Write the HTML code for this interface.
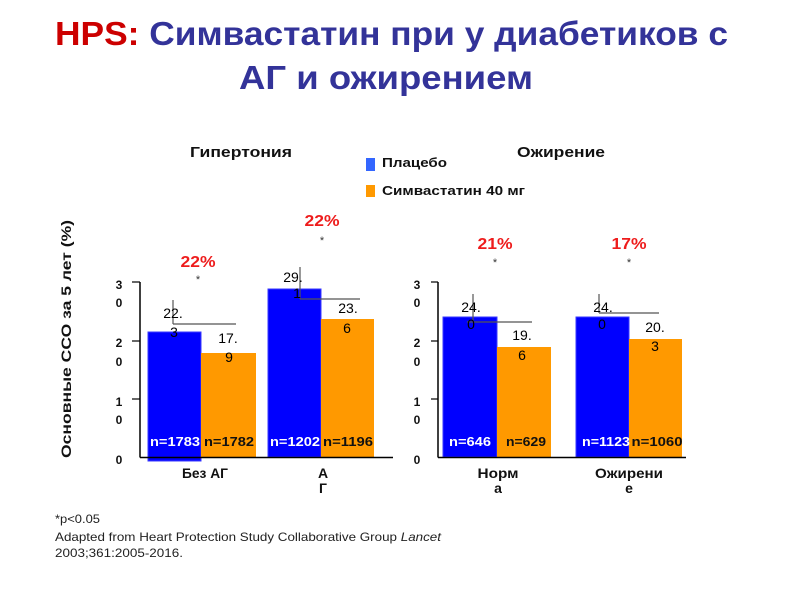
<!DOCTYPE html>
<html>
<head>
<meta charset="utf-8">
<style>
  html,body{margin:0;padding:0;background:#fff;}
  svg{display:block;}
  text{font-family:"Liberation Sans",Arial,"DejaVu Sans",sans-serif;}
</style>
</head>
<body>
<svg width="800" height="600" viewBox="0 0 800 600" xmlns="http://www.w3.org/2000/svg">
  <rect width="800" height="600" fill="#ffffff"/>

  <!-- Title -->
  <text x="55" y="45" font-size="33" font-weight="bold" textLength="673" lengthAdjust="spacingAndGlyphs"><tspan fill="#cc0000">HPS:</tspan><tspan fill="#333399"> Симвастатин при у диабетиков с</tspan></text>
  <text x="239" y="89" font-size="33" font-weight="bold" fill="#333399" textLength="294" lengthAdjust="spacingAndGlyphs">АГ и ожирением</text>

  <!-- Section headings -->
  <text x="190" y="157" font-size="15" font-weight="bold" fill="#111" textLength="102" lengthAdjust="spacingAndGlyphs">Гипертония</text>
  <text x="517" y="157" font-size="15" font-weight="bold" fill="#111" textLength="88" lengthAdjust="spacingAndGlyphs">Ожирение</text>

  <!-- Legend -->
  <rect x="366" y="158" width="9" height="13" fill="#3366ff"/>
  <text x="382" y="167" font-size="13" font-weight="bold" fill="#111" textLength="65" lengthAdjust="spacingAndGlyphs">Плацебо</text>
  <rect x="366" y="185" width="9" height="12" fill="#ff9900"/>
  <text x="382" y="195" font-size="13" font-weight="bold" fill="#111" textLength="143" lengthAdjust="spacingAndGlyphs">Симвастатин 40 мг</text>

  <!-- Y axis label -->
  <text transform="translate(71,458) rotate(-90)" x="0" y="0" font-size="14" font-weight="bold" fill="#111" textLength="238" lengthAdjust="spacingAndGlyphs">Основные ССО за 5 лет (%)</text>

  <!-- ===== Left chart ===== -->
  <rect x="148" y="332" width="53" height="129" fill="#0000ff" stroke="#3a3aff" stroke-width="1"/>
  <rect x="201" y="353" width="55" height="104" fill="#ff9900"/>
  <rect x="268" y="289" width="53" height="168" fill="#0000ff" stroke="#3a3aff" stroke-width="1"/>
  <rect x="321" y="319" width="53" height="138" fill="#ff9900"/>

  <line x1="140" y1="282" x2="140" y2="457.5" stroke="#000" stroke-width="1.5"/>
  <line x1="140" y1="457.5" x2="393" y2="457.5" stroke="#000" stroke-width="1.5"/>
  <line x1="132" y1="282" x2="140" y2="282" stroke="#000" stroke-width="1.2"/>
  <line x1="132" y1="341" x2="140" y2="341" stroke="#000" stroke-width="1.2"/>
  <line x1="132" y1="399" x2="140" y2="399" stroke="#000" stroke-width="1.2"/>

  <g font-size="12" font-weight="bold" fill="#111" text-anchor="middle">
    <text x="119" y="289">3</text><text x="119" y="307">0</text>
    <text x="119" y="347">2</text><text x="119" y="366">0</text>
    <text x="119" y="406">1</text><text x="119" y="424">0</text>
    <text x="119" y="464">0</text>
  </g>

  <g stroke="#555" stroke-width="1.2" fill="none">
    <line x1="173" y1="300" x2="173" y2="324"/>
    <line x1="173" y1="324" x2="236" y2="324"/>
    <line x1="300" y1="267" x2="300" y2="299"/>
    <line x1="300" y1="299" x2="360" y2="299"/>
  </g>

  <g font-size="14" fill="#000" text-anchor="middle">
    <text x="173" y="318">22.</text><text x="174" y="337">3</text>
    <text x="228" y="343">17.</text><text x="229" y="362">9</text>
    <text x="293" y="282">29.</text><text x="297" y="298">1</text>
    <text x="348" y="313">23.</text><text x="347" y="333">6</text>
  </g>

  <g font-size="13" font-weight="bold" text-anchor="middle">
    <text x="175" y="446" fill="#ffffff" textLength="50" lengthAdjust="spacingAndGlyphs">n=1783</text>
    <text x="229" y="446" fill="#111" textLength="50" lengthAdjust="spacingAndGlyphs">n=1782</text>
    <text x="295" y="446" fill="#ffffff" textLength="50" lengthAdjust="spacingAndGlyphs">n=1202</text>
    <text x="348" y="446" fill="#111" textLength="50" lengthAdjust="spacingAndGlyphs">n=1196</text>
  </g>

  <g font-size="16" font-weight="bold" fill="#ee1c1c" text-anchor="middle">
    <text x="198" y="267" textLength="35" lengthAdjust="spacingAndGlyphs">22%</text>
    <text x="322" y="226" textLength="35" lengthAdjust="spacingAndGlyphs">22%</text>
    <text x="495" y="249" textLength="35" lengthAdjust="spacingAndGlyphs">21%</text>
    <text x="629" y="249" textLength="35" lengthAdjust="spacingAndGlyphs">17%</text>
  </g>
  <g font-size="11" fill="#333" text-anchor="middle">
    <text x="198" y="283">*</text>
    <text x="322" y="244">*</text>
    <text x="495" y="266">*</text>
    <text x="629" y="266">*</text>
  </g>

  <g font-size="14" font-weight="bold" fill="#111" text-anchor="middle">
    <text x="205" y="478" textLength="46" lengthAdjust="spacingAndGlyphs">Без АГ</text>
    <text x="323" y="478">А</text>
    <text x="323" y="493">Г</text>
    <text x="498" y="478" textLength="41" lengthAdjust="spacingAndGlyphs">Норм</text>
    <text x="498" y="493">а</text>
    <text x="629" y="478" textLength="68" lengthAdjust="spacingAndGlyphs">Ожирени</text>
    <text x="629" y="493">е</text>
  </g>

  <!-- ===== Right chart ===== -->
  <rect x="443" y="317" width="54" height="140" fill="#0000ff" stroke="#3a3aff" stroke-width="1"/>
  <rect x="497" y="347" width="54" height="110" fill="#ff9900"/>
  <rect x="576" y="317" width="53" height="140" fill="#0000ff" stroke="#3a3aff" stroke-width="1"/>
  <rect x="629" y="339" width="53" height="118" fill="#ff9900"/>

  <line x1="438" y1="282" x2="438" y2="457.5" stroke="#000" stroke-width="1.5"/>
  <line x1="438" y1="457.5" x2="686" y2="457.5" stroke="#000" stroke-width="1.5"/>
  <line x1="431" y1="282" x2="438" y2="282" stroke="#000" stroke-width="1.2"/>
  <line x1="431" y1="341" x2="438" y2="341" stroke="#000" stroke-width="1.2"/>
  <line x1="431" y1="399" x2="438" y2="399" stroke="#000" stroke-width="1.2"/>

  <g font-size="12" font-weight="bold" fill="#111" text-anchor="middle">
    <text x="417" y="289">3</text><text x="417" y="307">0</text>
    <text x="417" y="347">2</text><text x="417" y="366">0</text>
    <text x="417" y="406">1</text><text x="417" y="424">0</text>
    <text x="417" y="464">0</text>
  </g>

  <g stroke="#555" stroke-width="1.2" fill="none">
    <line x1="473" y1="294" x2="473" y2="322"/>
    <line x1="467" y1="322" x2="532" y2="322"/>
    <line x1="599" y1="294" x2="599" y2="313"/>
    <line x1="599" y1="313" x2="659" y2="313"/>
  </g>

  <g font-size="14" fill="#000" text-anchor="middle">
    <text x="471" y="312">24.</text><text x="471" y="329">0</text>
    <text x="522" y="340">19.</text><text x="522" y="360">6</text>
    <text x="603" y="312">24.</text><text x="602" y="329">0</text>
    <text x="655" y="332">20.</text><text x="655" y="351">3</text>
  </g>

  <g font-size="13" font-weight="bold" text-anchor="middle">
    <text x="470" y="446" fill="#ffffff" textLength="42" lengthAdjust="spacingAndGlyphs">n=646</text>
    <text x="526" y="446" fill="#111" textLength="40" lengthAdjust="spacingAndGlyphs">n=629</text>
    <text x="606" y="446" fill="#ffffff" textLength="48" lengthAdjust="spacingAndGlyphs">n=1123</text>
    <text x="657" y="446" fill="#111" textLength="51" lengthAdjust="spacingAndGlyphs">n=1060</text>
  </g>

  <!-- Footnotes -->
  <g font-size="12" fill="#222">
    <text x="55" y="523" textLength="45" lengthAdjust="spacingAndGlyphs">*p&lt;0.05</text>
    <text x="55" y="541" textLength="386" lengthAdjust="spacingAndGlyphs">Adapted from Heart Protection Study Collaborative Group <tspan font-style="italic">Lancet</tspan></text>
    <text x="55" y="557" textLength="128" lengthAdjust="spacingAndGlyphs">2003;361:2005-2016.</text>
  </g>
</svg>
</body>
</html>
